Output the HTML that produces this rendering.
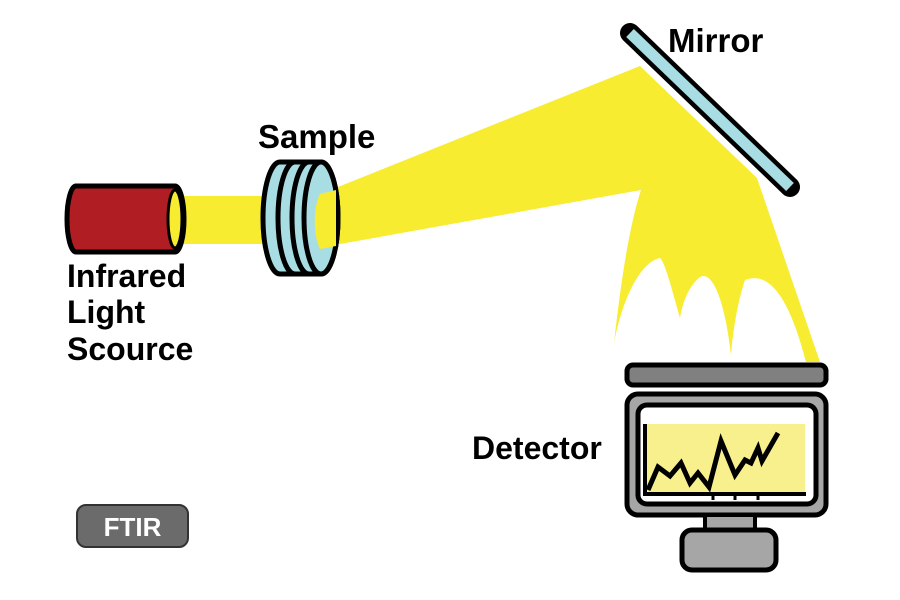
<!DOCTYPE html>
<html><head><meta charset="utf-8"><style>
html,body{margin:0;padding:0;background:#fff;}
svg{display:block;}
text{font-family:"Liberation Sans",sans-serif;font-weight:bold;}
</style></head><body>
<svg width="900" height="600" viewBox="0 0 900 600" xmlns="http://www.w3.org/2000/svg">
<rect x="170" y="196" width="105" height="48" fill="#f7ec30"/>
<path d="M318 195 L640 66 L757 178 L820 362 L806 362 C790 300 770 270 745 280 C738 300 733 330 731 355 C725 300 712 270 700 277 C690 285 683 300 680 318 C672 290 665 262 660 258 C640 262 622 300 614 343 C620 290 628 230 641 190 L318 248 Z" fill="#f7ec30"/>
<line x1="630" y1="33" x2="790" y2="187" stroke="#000" stroke-width="20" stroke-linecap="round"/>
<line x1="630" y1="33" x2="790" y2="187" stroke="#a8dde4" stroke-width="11" stroke-linecap="butt"/>
<path d="M76 186 L175 186 A9 33 0 0 1 175 252 L76 252 A9 33 0 0 1 76 186 Z" fill="#b01e23" stroke="#000" stroke-width="5"/>
<ellipse cx="175" cy="219" rx="7" ry="29" fill="#f7ec30" stroke="#000" stroke-width="3"/>
<g stroke="#000" stroke-width="5" fill="#a8dde4">
<path d="M280 162 L295 162 A17 56 0 0 1 295 274 L280 274 A17 56 0 0 1 280 162 Z"/>
<path d="M295 162 L309 162 A17 56 0 0 1 309 274 L295 274 A17 56 0 0 1 295 162 Z"/>
<path d="M309 162 L321 162 A17 56 0 0 1 321 274 L309 274 A17 56 0 0 1 309 162 Z"/>
<ellipse cx="321" cy="218" rx="17" ry="56"/>
</g>
<path d="M320 194 L336 190 L336 246 L320 249 C313 235 313 207 320 194Z" fill="#f7ec30"/>
<rect x="627" y="365" width="199" height="20" rx="6" fill="#808080" stroke="#000" stroke-width="5"/>
<rect x="627" y="394" width="199" height="121" rx="11" fill="#a6a6a6" stroke="#000" stroke-width="5"/>
<rect x="638" y="405" width="178" height="99" rx="9" fill="#fff" stroke="#000" stroke-width="5"/>
<rect x="645" y="424" width="160" height="71" fill="#f8f08c"/>
<polyline points="645,424 645,494 806,494" fill="none" stroke="#000" stroke-width="4"/>
<g stroke="#000" stroke-width="3"><line x1="713" y1="494" x2="713" y2="500"/><line x1="735" y1="494" x2="735" y2="500"/><line x1="758" y1="494" x2="758" y2="500"/></g>
<polyline points="648,490 658,467 670,476 681,463 690,483 698,473 709,487 721,441 735,475 745,460 751,463 758,448 762,461 778,433" fill="none" stroke="#000" stroke-width="5"/>
<rect x="705" y="515" width="50" height="16" fill="#a6a6a6" stroke="#000" stroke-width="4"/>
<rect x="682" y="530" width="94" height="40" rx="10" fill="#a6a6a6" stroke="#000" stroke-width="5"/>
<rect x="77" y="505" width="111" height="42" rx="9" fill="#6b6b6b" stroke="#333" stroke-width="2"/>
<text x="132.5" y="536" font-size="26" fill="#fff" text-anchor="middle">FTIR</text>
<text x="668" y="52" font-size="33">Mirror</text>
<text x="258" y="148" font-size="33">Sample</text>
<text x="67" y="287" font-size="32">Infrared</text>
<text x="67" y="323" font-size="32">Light</text>
<text x="67" y="360" font-size="32">Scource</text>
<text x="472" y="459" font-size="32">Detector</text>
</svg>
</body></html>
